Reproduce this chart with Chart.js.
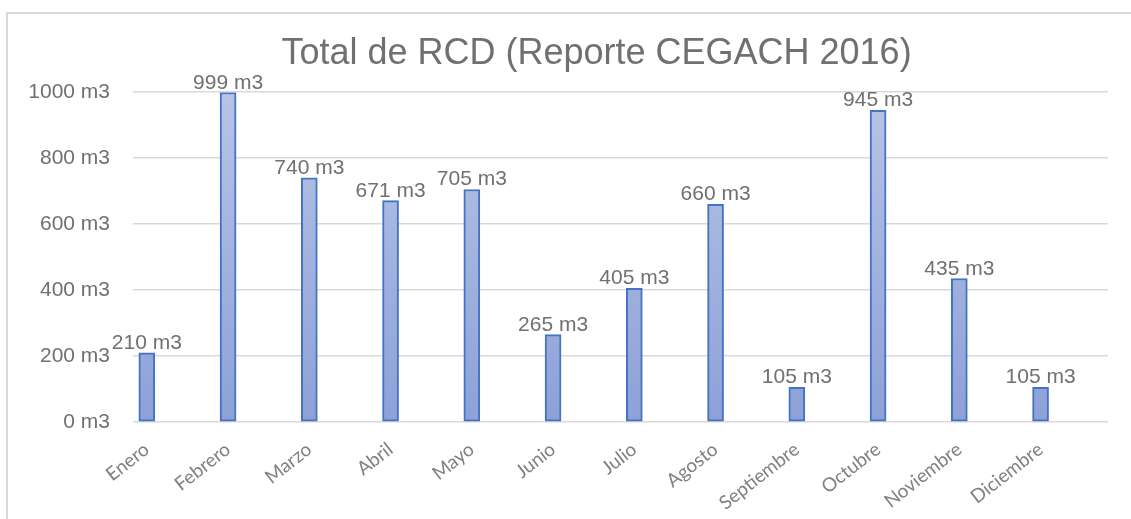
<!DOCTYPE html>
<html>
<head>
<meta charset="utf-8">
<script src="https://cdn.jsdelivr.net/npm/chart.js"></script>
<style>
  body { margin: 0; background: #fff; overflow: hidden; }
  #frame { position: absolute; left: 6px; top: 12px; width: 1200px; height: 600px;
           border-left: 2px solid #d9d9d9; border-top: 2px solid #d9d9d9; }
  #chart-area { position: absolute; left: 0; top: 0; }
</style>
</head>
<body>
<div id="frame"></div>
<canvas id="chart-area" width="1190" height="519"></canvas>
<script>
  // datos del reporte
  var meses = ["Enero", "Febrero", "Marzo", "Abril", "Mayo", "Junio", "Julio",
               "Agosto", "Septiembre", "Octubre", "Noviembre", "Diciembre"];
  var totales = [210, 999, 740, 671, 705, 265, 405, 660, 105, 945, 435, 105];
  var unidad = " m3";

  var gris = "#707070";

  // etiquetas encima de cada barra
  var etiquetas = {
    id: "etiquetas",
    afterDatasetsDraw: function(chart) {
      var ctx = chart.ctx;
      var meta = chart.getDatasetMeta(0);
      ctx.save();
      ctx.font = "21px 'Liberation Sans', Arial, sans-serif";
      ctx.fillStyle = gris;
      ctx.textAlign = "center";
      ctx.textBaseline = "alphabetic";
      meta.data.forEach(function(bar, i) {
        ctx.fillText(totales[i] + unidad, bar.x, bar.y - 4);
      });
      ctx.restore();
    }
  };

  function relleno(context) {
    var area = context.chart.chartArea;
    if (!area) return "#a3b3de";
    var g = context.chart.ctx.createLinearGradient(0, area.top, 0, area.bottom);
    g.addColorStop(0, "#b8c4e6");
    g.addColorStop(1, "#8da1d8");
    return g;
  }

  var config = {
    type: "bar",
    data: {
      datasets: [{
        label: "Total de RCD",
        data: totales.map(function(v, i) { return { x: i, y: v }; }),
        backgroundColor: relleno,
        borderColor: "#4472c4",
        borderWidth: 2,
        borderSkipped: false,
        barThickness: 16
      }]
    },
    options: {
      responsive: false,
      animation: false,
      layout: { padding: { left: 26, right: 23, top: 10, bottom: 0 } },
      plugins: {
        legend: { display: false },
        tooltip: { enabled: false },
        title: {
          display: true,
          text: "Total de RCD (Reporte CEGACH 2016)",
          color: gris,
          font: { family: "'Liberation Sans', Arial, sans-serif", size: 36, weight: "normal" },
          padding: { top: 22, bottom: 17 }
        }
      },
      scales: {
        x: {
          type: "linear",
          offset: false,
          min: -0.17,
          max: 11.83,
          grid: { display: false },
          border: { display: false },
          afterBuildTicks: function(scale) {
            scale.ticks = meses.map(function(m, i) { return { value: i }; });
          },
          afterFit: function(scale) { scale.height = 97; },
          ticks: {
            autoSkip: false,
            maxRotation: 38,
            minRotation: 38,
            padding: 8,
            color: "#808080",
            font: { family: "Lato, 'Open Sans', sans-serif", size: 19 },
            callback: function(v) { return meses[v]; }
          }
        },
        y: {
          min: 0,
          max: 1000,
          border: { display: false },
          grid: { color: "#d9d9d9", lineWidth: 1.5, drawTicks: false },
          afterFit: function(scale) { scale.width = 107; },
          ticks: {
            stepSize: 200,
            padding: 23,
            color: gris,
            font: { family: "'Liberation Sans', Arial, sans-serif", size: 21 },
            callback: function(v) { return v + unidad; }
          }
        },
        // margen derecho del área del gráfico (el marco sigue fuera de la imagen)
        derecha: {
          type: "linear",
          position: "right",
          grid: { display: false },
          border: { display: false },
          ticks: { display: false },
          afterFit: function(scale) { scale.width = 59; }
        }
      }
    },
    plugins: [etiquetas]
  };

  var ctx = document.getElementById("chart-area").getContext("2d");
  window.myBar = new Chart(ctx, config);
</script>
</body>
</html>
